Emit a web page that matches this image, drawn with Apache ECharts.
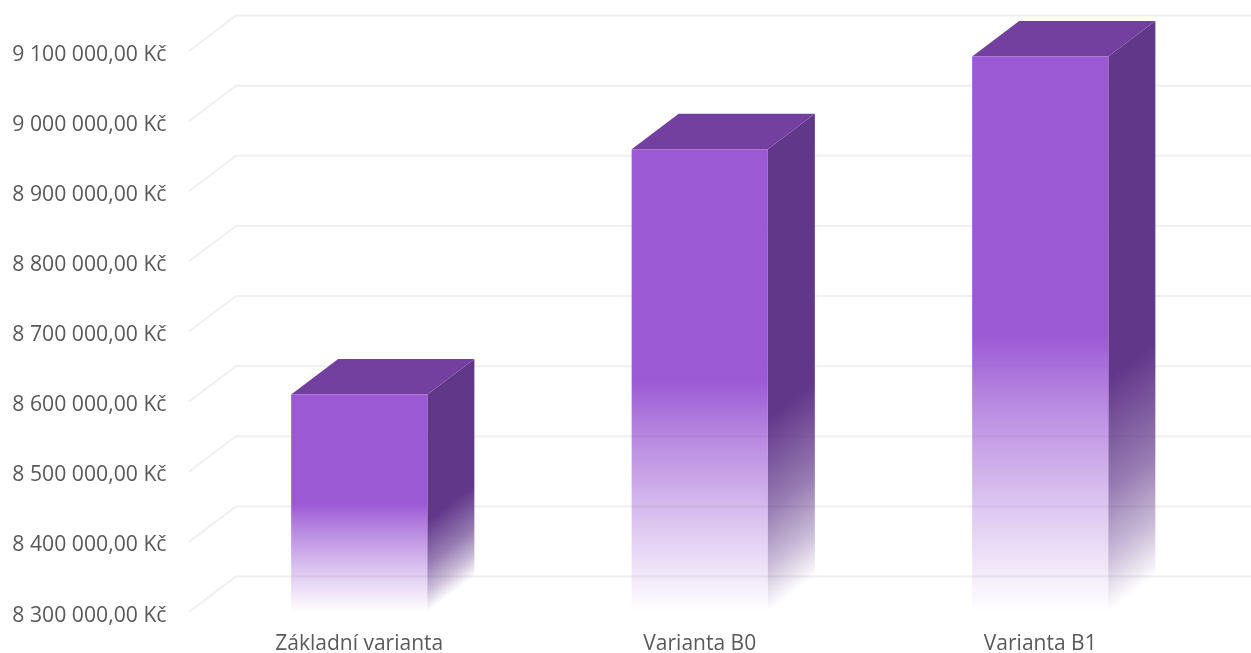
<!DOCTYPE html>
<html>
<head>
<meta charset="utf-8">
<style>html,body{margin:0;padding:0;background:#fff}#chart{width:1251px;height:653px}</style>
<script src="https://cdn.jsdelivr.net/npm/echarts@6/dist/echarts.min.js"></script>
</head>
<body>
<div id="chart"></div>
<script>
// Project cost per variant, in CZK
const categories = ['Základní varianta', 'Varianta B0', 'Varianta B1'];
const costs = [8610000, 8960000, 9092000];
const tickValues = [8300000, 8400000, 8500000, 8600000, 8700000, 8800000, 8900000, 9000000, 9100000];

// Oblique projection of the depth axis, in pixels
const DEPTH_X = 47;
const DEPTH_Y = 35.5;
const BAR_SHARE = 0.4;

const FRONT = [155, 89, 212];
const TOP = [115, 64, 159];
const SIDE = [97, 55, 138];
const rgba = (c, a) => `rgba(${c[0]},${c[1]},${c[2]},${a})`;

function formatKc(v) {
  const whole = String(Math.round(v)).replace(/\B(?=(\d{3})+$)/g, ' ');
  return whole + ',00 Kč';
}

// Gridline on the floor edge and back wall of the 3D plot box
function renderWallLine(params, api) {
  const box = params.coordSys;
  const y = api.coord([0, api.value(1)])[1];
  return {
    type: 'polyline',
    silent: true,
    shape: { points: [[box.x, y], [box.x + DEPTH_X, y - DEPTH_Y], [box.x + box.width + DEPTH_X, y - DEPTH_Y]] },
    style: { fill: null, stroke: '#f0f0f0', lineWidth: 2 }
  };
}

// Front, top and side faces of one box, fading out towards the base
function renderBox(params, api) {
  const box = params.coordSys;
  const c = api.coord([api.value(0), api.value(1)]);
  const w = api.size([1, 0])[0] * BAR_SHARE;
  const l = c[0] - w / 2, r = c[0] + w / 2, t = c[1], b = box.y + box.height;

  const front = new echarts.graphic.LinearGradient(0, t, 0, b, [
    { offset: 0, color: rgba(FRONT, 1) },
    { offset: 0.5, color: rgba(FRONT, 1) },
    { offset: 0.62, color: rgba(FRONT, 0.72) },
    { offset: 0.8, color: rgba(FRONT, 0.36) },
    { offset: 1, color: rgba(FRONT, 0) }
  ], true);

  // The side fade runs at right angles to the receding bottom edge
  const len = Math.hypot(DEPTH_X, DEPTH_Y);
  const nx = DEPTH_Y / len, ny = DEPTH_X / len;
  const run = (b - t) * ny;
  const side = new echarts.graphic.LinearGradient(
    r, t, r + nx * run, t + ny * run, [
      { offset: 0, color: rgba(SIDE, 1) },
      { offset: 0.58, color: rgba(SIDE, 1) },
      { offset: 0.78, color: rgba(SIDE, 0.66) },
      { offset: 0.9, color: rgba(SIDE, 0.34) },
      { offset: 1, color: rgba(SIDE, 0) }
    ], true);

  return {
    type: 'group',
    silent: true,
    children: [
      { type: 'polygon', shape: { points: [[r, t], [r + DEPTH_X, t - DEPTH_Y], [r + DEPTH_X, b - DEPTH_Y], [r, b]] }, style: { fill: side } },
      { type: 'polygon', shape: { points: [[l, t], [l + DEPTH_X, t - DEPTH_Y], [r + DEPTH_X, t - DEPTH_Y], [r, t]] }, style: { fill: rgba(TOP, 1) } },
      { type: 'rect', shape: { x: l, y: t, width: w, height: b - t }, style: { fill: front } }
    ]
  };
}

const chart = echarts.init(document.getElementById('chart'), null, { renderer: 'canvas' });
const LABEL_FONT = { color: '#595959', fontFamily: '"Open Sans", sans-serif', fontSize: 21 };

chart.setOption({
  animation: false,
  backgroundColor: '#ffffff',
  grid: { left: 189, top: 51, width: 1021.5, height: 561, containLabel: false, outerBoundsMode: 'none' },
  xAxis: {
    type: 'category',
    data: categories,
    axisLine: { show: false },
    axisTick: { show: false },
    axisLabel: Object.assign({ margin: 22 }, LABEL_FONT)
  },
  yAxis: {
    type: 'value',
    min: 8300000,
    max: 9100000,
    interval: 100000,
    axisLine: { show: false },
    axisTick: { show: false },
    splitLine: { show: false },
    axisLabel: Object.assign({ margin: 22.5, verticalAlign: 'top', lineHeight: 7, formatter: formatKc }, LABEL_FONT, { fontSize: 21.2 })
  },
  series: [
    {
      type: 'custom',
      coordinateSystem: 'cartesian2d',
      renderItem: renderWallLine,
      data: tickValues.map(v => [0, v]),
      encode: { x: 0, y: 1 },
      z: 1
    },
    {
      type: 'custom',
      coordinateSystem: 'cartesian2d',
      renderItem: renderBox,
      data: costs.map((v, i) => [i, v]),
      encode: { x: 0, y: 1 },
      z: 2
    }
  ]
});
</script>
</body>
</html>
